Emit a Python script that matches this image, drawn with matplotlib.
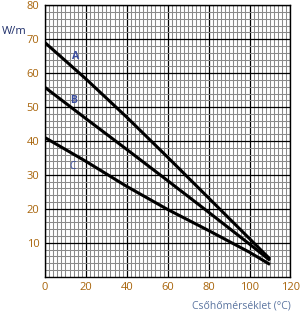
import matplotlib
matplotlib.use("Agg")
import matplotlib.pyplot as plt
from matplotlib.ticker import MultipleLocator

temps = [0, 20, 40, 60, 80, 100, 110]
curve_a = [69.0, 58.3, 47.0, 35.2, 23.2, 11.2, 5.2]
curve_b = [55.8, 46.6, 37.5, 28.3, 19.0, 9.6, 4.8]
curve_c = [41.0, 34.0, 26.6, 19.8, 13.6, 7.2, 3.6]
curve_names = ["A", "B", "C"]
label_pos = [(14.7, 64.8), (14.2, 51.8), (13.7, 32.6)]
x_ticks = [0, 20, 40, 60, 80, 100, 120]
y_ticks = [10, 20, 30, 40, 50, 60, 70, 80]
x_title = "Csőhőmérséklet (°C)"
y_unit = "W/m"

plt.rcParams['font.family'] = ['Open Sans', 'DejaVu Sans']
tick_color = '#a8640a'

fig = plt.figure(figsize=(3.01, 3.13), dpi=100)
ax = fig.add_axes([0.1495, 0.116, 0.8155, 0.867])
ax.set_xlim(0, 120)
ax.set_ylim(0, 80)

ax.xaxis.set_minor_locator(MultipleLocator(2))
ax.yaxis.set_minor_locator(MultipleLocator(2))
ax.set_xticks(x_ticks)
ax.set_yticks(y_ticks)
ax.grid(which='minor', color='#8a8a8a', linewidth=0.75)
ax.grid(which='major', color='black', linewidth=0.9)
ax.set_axisbelow(True)
ax.tick_params(which='both', length=0, pad=4, labelsize=8, labelcolor=tick_color)
for s in ax.spines.values():
    s.set_color('black')
    s.set_linewidth(1.0)

for ys in (curve_a, curve_b, curve_c):
    ax.plot(temps, ys, color='black', linewidth=2.2, solid_capstyle='butt', zorder=3)

for name, (lx, ly) in zip(curve_names, label_pos):
    ax.text(lx, ly, name, color='#3b4ea0', fontsize=7.5,
            fontweight='bold' if name != 'C' else 'normal',
            ha='center', va='center', zorder=4)

fig.text(0.965, 0.022, x_title, ha='right', va='center', fontsize=7.5, color='#5a74a0')
fig.text(0.005, 0.898, y_unit, ha='left', va='center', fontsize=8, color='#1f2f6a')

fig.savefig('out.png', dpi=100)
